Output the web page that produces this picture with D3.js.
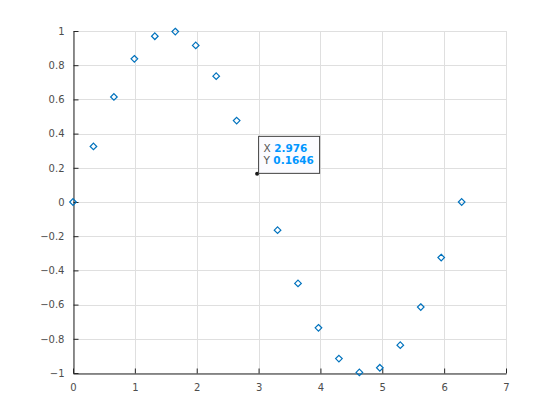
<!DOCTYPE html>
<html><head><meta charset="utf-8">
<script src="https://cdn.jsdelivr.net/npm/d3@7"></script>
<style>body{margin:0;background:#fff}svg{display:block}</style>
</head><body>
<script>
const xValues = [0, 0.3307, 0.6614, 0.9921, 1.3228, 1.6535, 1.9842, 2.3149, 2.6456, 2.9762, 3.3069, 3.6376, 3.9683, 4.2990, 4.6297, 4.9604, 5.2911, 5.6218, 5.9525, 6.2832];
const yValues = [0, 0.3247, 0.6142, 0.8372, 0.9694, 0.9966, 0.9158, 0.7357, 0.4759, 0.1646, -0.1646, -0.4759, -0.7357, -0.9158, -0.9966, -0.9694, -0.8372, -0.6142, -0.3247, 0];
const xTicks = [0, 1, 2, 3, 4, 5, 6, 7];
const yTicks = [-1, -0.8, -0.6, -0.4, -0.2, 0, 0.2, 0.4, 0.6, 0.8, 1];
const tipIndex = 9;
const tipLabels = ["2.976", "0.1646"];

const W = 560, H = 420;
const m = {left: 73, right: 506, top: 31, bottom: 373};
const svg = d3.select("body").append("svg").attr("width", W).attr("height", H);
const x = d3.scaleLinear().domain([0, 7]).range([m.left, m.right]);
const y = d3.scaleLinear().domain([-1, 1]).range([m.bottom, m.top]);

// grid
const g = svg.append("g");
g.selectAll(".gx").data(xTicks).enter().append("line")
  .attr("x1", d => Math.round(x(d)) + 0.5).attr("x2", d => Math.round(x(d)) + 0.5)
  .attr("y1", m.top).attr("y2", m.bottom)
  .attr("stroke", "#dfdfdf").attr("stroke-width", 1);
g.selectAll(".gy").data(yTicks).enter().append("line")
  .attr("y1", d => Math.round(y(d)) + 0.5).attr("y2", d => Math.round(y(d)) + 0.5)
  .attr("x1", m.left).attr("x2", m.right)
  .attr("stroke", "#dfdfdf").attr("stroke-width", 1);

const font = "'DejaVu Sans', sans-serif";
// axes
const xAxis = d3.axisBottom(x).tickValues(xTicks).tickSizeInner(-5).tickSizeOuter(0).tickPadding(10).tickFormat(d3.format("d"));
const yAxis = d3.axisLeft(y).tickValues(yTicks).tickSizeInner(-5).tickSizeOuter(0).tickPadding(9).tickFormat(d => d === 0 ? "0" : d3.format("")(+d.toFixed(1)));
const ax = svg.append("g").attr("transform", `translate(0,${m.bottom + 0.5})`).call(xAxis);
const ay = svg.append("g").attr("transform", `translate(${m.left + 0.5},0)`).call(yAxis);
[ax, ay].forEach(a => {
  a.select(".domain").attr("stroke", "#262626");
  a.selectAll(".tick line").attr("stroke", "#262626");
  a.selectAll("text").attr("fill", "#4d4d4d").attr("font-family", font).attr("font-size", 10);
});

// markers
const pts = xValues.map((v, i) => ({x: v, y: yValues[i], i}));
const s = 3.3;
svg.append("g").selectAll("path").data(pts.filter(p => p.i !== tipIndex)).enter().append("path")
  .attr("d", d => {
    const cx = x(d.x), cy = y(d.y);
    return `M${cx},${cy - s}L${cx + s},${cy}L${cx},${cy + s}L${cx - s},${cy}Z`;
  })
  .attr("fill", "none").attr("stroke", "#0072BD").attr("stroke-width", 1.2);

// datatip
const tp = pts[tipIndex];
const tx = x(tp.x), ty = y(tp.y);
svg.append("circle").attr("cx", tx).attr("cy", ty).attr("r", 2).attr("fill", "#1a1a1a");
const bx = tx + 1, by = ty - 38, bw = 61, bh = 37;
svg.append("rect").attr("x", bx + 0.5).attr("y", by + 0.5).attr("width", bw).attr("height", bh)
  .attr("fill", "#fbfbff").attr("stroke", "#404040").attr("stroke-width", 1);
["X", "Y"].forEach((lab, k) => {
  const t = svg.append("text").attr("x", bx + 5.5).attr("y", by + 16 + k * 12.5)
    .attr("font-family", font).attr("font-size", 10.5);
  t.append("tspan").attr("fill", "#555").text(lab + " ");
  t.append("tspan").attr("fill", "#0096ff").attr("font-weight", "bold").text(tipLabels[k]);
});
</script>
</body></html>
